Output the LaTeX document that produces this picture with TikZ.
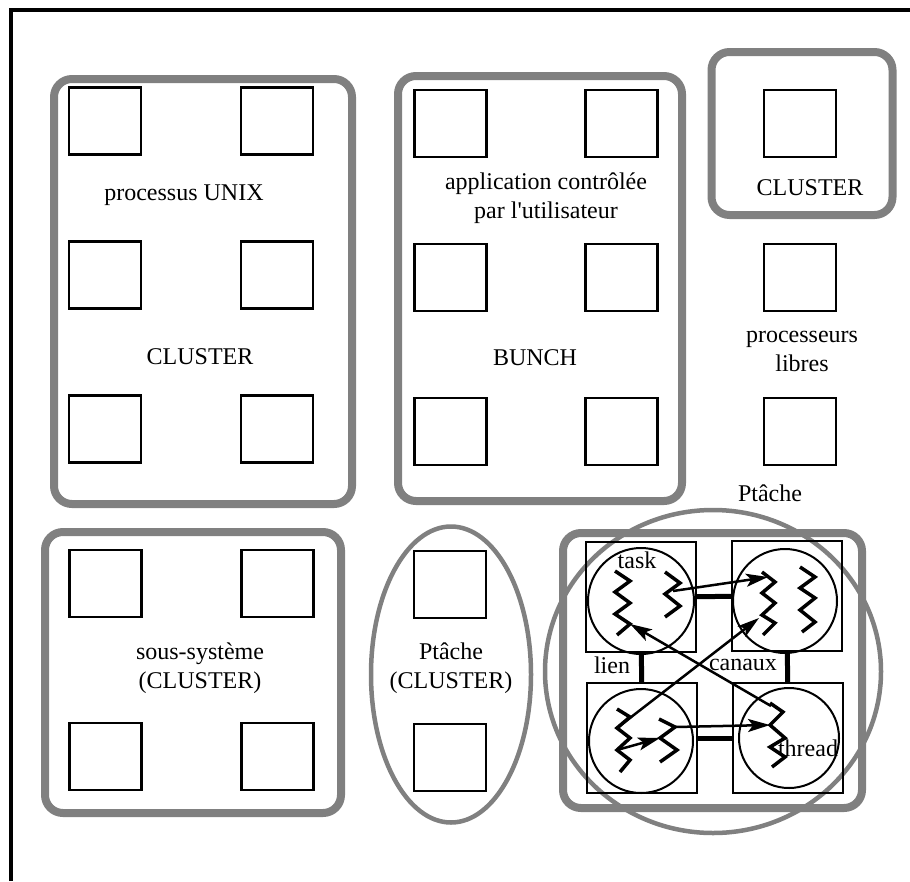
\documentclass[tikz,border=0pt]{standalone}
\usepackage{fontspec}
\setmainfont{Liberation Serif}[Ligatures=TeXOff]
\usetikzlibrary{shapes.geometric, arrows.meta, positioning}

\begin{document}
\begin{tikzpicture}[
    x=1pt, y=-1pt,
    node distance=154pt,
    font=\fontsize{24}{29}\selectfont,
    proc/.style={rectangle, draw, line width=2.2pt, minimum width=72pt, minimum height=67pt, inner sep=0pt},
    group/.style={rectangle, draw=gray, line width=8pt, rounded corners=18pt, inner sep=0pt},
    ring/.style={ellipse, draw=gray, line width=4.5pt, inner sep=0pt},
    site/.style={rectangle, draw, line width=2pt, minimum width=110pt, minimum height=110pt, inner sep=0pt},
    task/.style={circle, draw, line width=2pt, inner sep=0pt},
    txt/.style={align=center, inner sep=0pt},
    thread/.style={line width=3.5pt},
    link/.style={line width=5pt},
    msg/.style={line width=2.5pt, -{Stealth[length=22pt, width=13pt, inset=5pt]}}
]
    \useasboundingbox (0,0) rectangle (910,881);
    \draw [line width=4pt] (11,881) -- (11,10) -- (910,10);

    % groupes
    \node (gA) [group, minimum width=298pt, minimum height=425pt] at (203,291.5) {};
    \node (gB) [group, minimum width=284pt, minimum height=425pt] at (540,288.5) {};
    \node (gC) [group, minimum width=181pt, minimum height=163pt] at (802,133.5) {};
    \node (gD) [group, minimum width=296pt, minimum height=281pt] at (193,672.5) {};
    \node (gE) [group, minimum width=299pt, minimum height=275pt] at (712.5,670.5) {};
    \node (ptA) [ring, minimum width=160pt, minimum height=296pt] at (451,674.5) {};
    \node (ptB) [ring, minimum width=336pt, minimum height=323pt] at (713,671.5) {};

    % processeurs
    \node (a1) [proc] at (105,121) {};
    \node (a2) [proc, right of=a1, xshift=18pt] {};
    \node (a3) [proc, below of=a1] {};
    \node (a4) [proc, below of=a2] {};
    \node (a5) [proc, below of=a3] {};
    \node (a6) [proc, below of=a4] {};

    \node (b1) [proc] at (450.5,123.5) {};
    \node (b2) [proc, right of=b1, xshift=17pt] {};
    \node (b3) [proc, below of=b1] {};
    \node (b4) [proc, below of=b2] {};
    \node (b5) [proc, below of=b3] {};
    \node (b6) [proc, below of=b4] {};

    \node (c1) [proc] at (800,123.5) {};
    \node (f1) [proc, below of=c1] {};
    \node (f2) [proc, below of=f1] {};

    \node (d1) [proc] at (105.5,583.5) {};
    \node (d2) [proc, right of=d1, xshift=18pt] {};
    \node (d3) [proc, below of=d1, yshift=-19pt] {};
    \node (d4) [proc, below of=d2, yshift=-19pt] {};

    \node (e1) [proc] at (450,584.5) {};
    \node (e2) [proc, below of=e1, yshift=-19pt] {};

    % textes
    \node (tA1) [txt] at (184,195) {processus UNIX};
    \node (tA2) [txt] at (200,357) {CLUSTER};
    \node (tB1) [txt] at (546,198) {application contrôlée\\par l'utilisateur};
    \node (tB2) [txt] at (535,358) {BUNCH};
    \node (tC) [txt] at (810,188) {CLUSTER};
    \node (tF) [txt] at (802,351) {processeurs\\libres};
    \node (tP) [txt] at (770,493) {Ptâche};
    \node (tD) [txt] at (200,668) {sous-système\\(CLUSTER)};
    \node (tE) [txt] at (451,668) {Ptâche\\(CLUSTER)};

    % tâches
    \node (s1) [site] at (641,597) {};
    \node (s2) [site] at (787,596) {};
    \node (s3) [site] at (642,738) {};
    \node (s4) [site] at (788,738) {};
    \node (k1) [task, minimum size=106pt] at (641,601) {};
    \node (k2) [task, minimum size=104pt] at (785,601) {};
    \node (k3) [task, minimum size=104pt] at (641,741) {};
    \node (k4) [task, minimum size=100pt] at (789,738) {};

    \draw [link] (s1) -- (s2);
    \draw [link] (s3) -- (s4);
    \draw [link] (s1) -- (s3);
    \draw [link] (s2) -- (s4);

    % threads
    \draw [thread] (615,571) -- ++(15,10) -- ++(-15,11) -- ++(15,11) -- ++(-15,11) -- ++(15,10) coordinate (r3) -- ++(-13,11);
    \draw [thread] (665,572) -- ++(15,11) -- ++(-15,11) -- ++(15,12) -- ++(-15,11);
    \draw [thread] (762,572) -- ++(13,10) -- ++(-13,11) -- ++(13,10) -- ++(-13,12) -- ++(13,8) -- ++(-12,12);
    \draw [thread] (800,567) -- ++(15,10) -- ++(-15,11) -- ++(15,10) -- ++(-15,12) -- ++(15,12) -- ++(-13,10);
    \draw [thread] (617,709) -- ++(13,8) -- ++(-13,11) coordinate (q2) -- ++(13,10) -- ++(-13,12) coordinate (q5) -- ++(13,10) -- ++(-10,12);
    \draw [thread] (659,719) -- ++(16,8) coordinate (q4) -- ++(-15,11) coordinate (r5) -- ++(17,12) -- ++(-17,12);
    \draw [thread] (770,703) -- ++(13,9) -- ++(-13,13) coordinate (r4) -- ++(15,13) -- ++(-15,9) -- ++(15,10) -- ++(-13,10);

    \coordinate (q1) at (673,591);
    \coordinate (r1) at (768,577);
    \coordinate (r2) at (759,618);
    \coordinate (q3) at (771,706);

    % canaux
    \draw [msg] (q1) -- (r1);
    \draw [msg] (q2) -- (r2);
    \draw [msg] (q3) -- (r3);
    \draw [msg] (q4) -- (r4);
    \draw [msg] (q5) -- (r5);

    \node (lk) [txt] at (637,560) {task};
    \node (ll) [txt] at (612,665) {lien};
    \node (lc) [txt] at (743,665) {canaux};
    \node (lt) [txt] at (808,748) {thread};
\end{tikzpicture}
\end{document}
